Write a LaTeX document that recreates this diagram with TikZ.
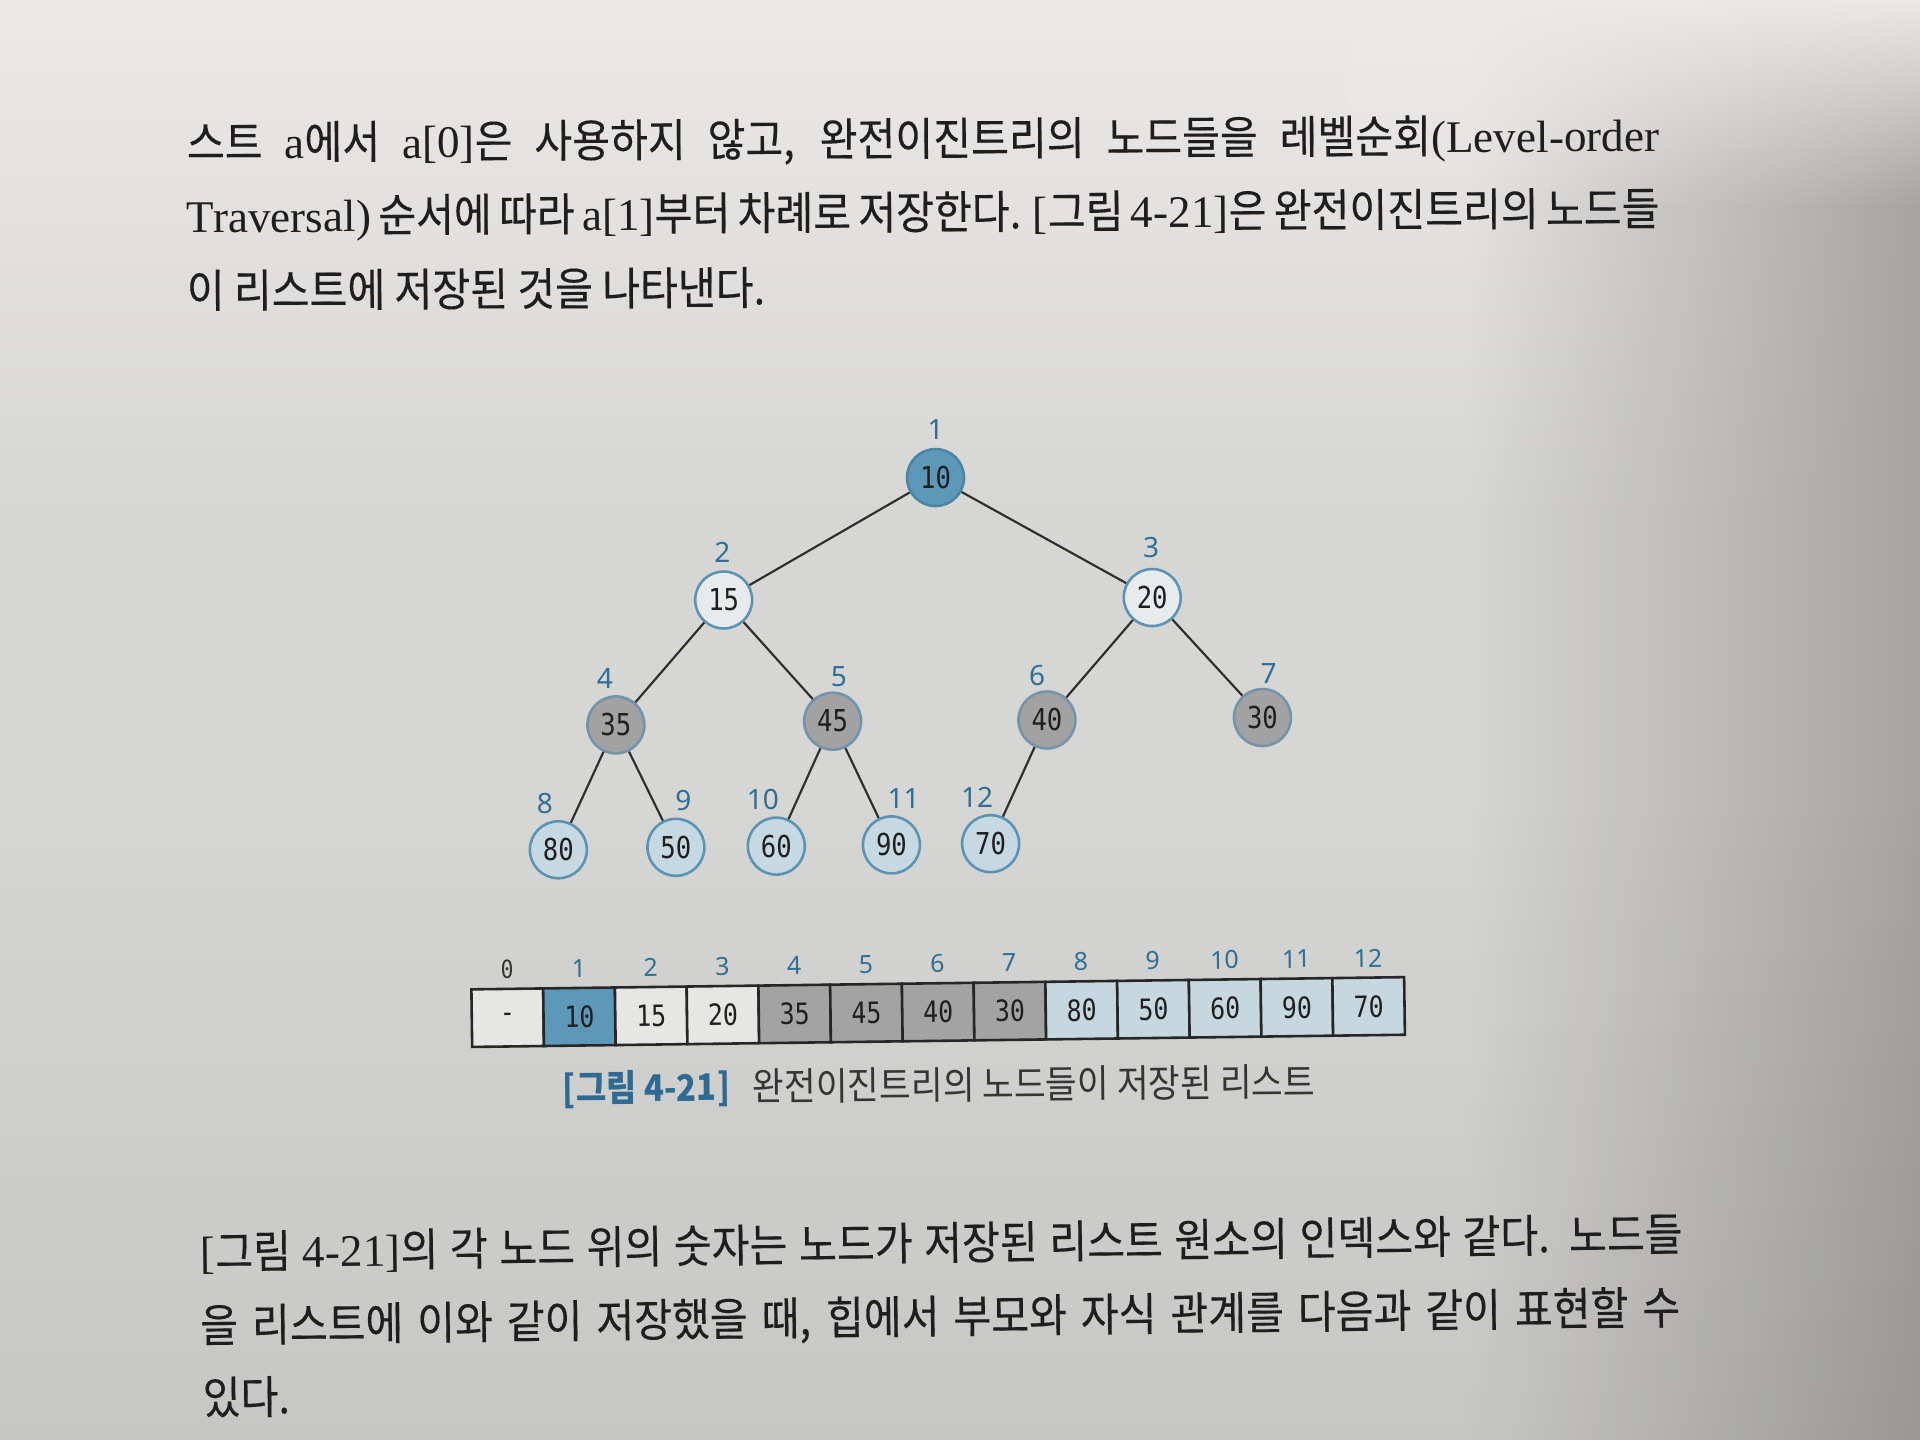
\documentclass[tikz,border=0pt]{standalone}
\usepackage{fontspec}
\usetikzlibrary{fadings}
\setmainfont{Noto Sans CJK KR}[FakeStretch=0.91, FakeBold=0.25]
\newfontfamily\lat{Liberation Serif}
\newfontfamily\monof[FakeStretch=0.85]{DejaVu Sans Mono}
\newfontfamily\idxf{Noto Sans}
\newfontfamily\capf[FakeStretch=0.9]{Noto Sans CJK KR}
\definecolor{bgmain}{HTML}{D6D6D4}
\definecolor{bgtop}{HTML}{EBE9E8}
\definecolor{bgright}{HTML}{A6A4A2}
\definecolor{textcol}{HTML}{1E1E1E}
\definecolor{rootblue}{HTML}{5D98B8}
\definecolor{rootedge}{HTML}{4A85A5}
\definecolor{whitefill}{HTML}{E8EBEC}
\definecolor{ltedge}{HTML}{5C93B3}
\definecolor{grayfill}{HTML}{A2A2A2}
\definecolor{grayedge}{HTML}{7393AA}
\definecolor{lbfill}{HTML}{C6D9E2}
\definecolor{idxblue}{HTML}{2F6F96}
\definecolor{edgecol}{HTML}{2E2E2E}
\definecolor{cellw}{HTML}{E6E6E5}
\definecolor{cellgray}{HTML}{A3A3A3}
\definecolor{celllb}{HTML}{C6D7DF}
\definecolor{capblue}{HTML}{2F6A92}
\tikzfading[name=fadeE, left color=transparent!100, right color=transparent!0]
\tikzfading[name=fadeS, top color=transparent!100, bottom color=transparent!0]
\tikzfading[name=fadeN, top color=transparent!0, bottom color=transparent!100]
\begin{document}
\begin{tikzpicture}[x=0.01cm,y=-0.01cm,
  tnode/.style={circle, minimum size=0.465cm, inner sep=0pt, line width=0.6pt,
    font=\monof\fontsize{7}{8}\selectfont, text=black!88},
  rootn/.style={tnode, fill=rootblue, draw=rootedge},
  whiten/.style={tnode, fill=whitefill, draw=ltedge},
  grayn/.style={tnode, fill=grayfill, draw=grayedge},
  lbn/.style={tnode, fill=lbfill, draw=ltedge},
  idx/.style={text=idxblue, font=\idxf\fontsize{6.5}{7}\selectfont, inner sep=0pt},
  tedge/.style={draw=edgecol, line width=0.5pt},
  txt/.style={anchor=base west, inner sep=0pt, font=\fontsize{10.5}{12}\selectfont, text=textcol},
  cell/.style={draw=black!85, line width=0.6pt, minimum width=0.586cm, minimum height=0.47cm,
    inner sep=0pt, transform shape, font=\monof\fontsize{6.8}{7}\selectfont, text=black!88},
  aidx/.style={text=idxblue, inner sep=0pt, transform shape, font=\idxf\fontsize{5.8}{6}\selectfont},
]
\useasboundingbox (0,0) rectangle (1568,1176);
% page background
\fill[bgmain] (0,0) rectangle (1568,1176);
\shade[top color=bgtop, bottom color=bgmain] (0,0) rectangle (1568,420);
\fill[bgright, path fading=fadeE] (1200,0) rectangle (1568,1176);
\fill[black, opacity=0.07, path fading=fadeS] (0,650) rectangle (1568,1176);
\fill[bgtop, path fading=fadeN] (1100,0) rectangle (1568,170);

% top paragraph
\node[txt, rotate=0.3] (p1) at (152,130) {\makebox[12.02cm][s]{스트 {\lat a}에서 {\lat a[0]}은 사용하지 않고, 완전이진트리의 노드들을 레벨순회{\lat (Level-order}}};
\node[txt, rotate=0.3] (p2) at (152,190) {\makebox[12.02cm][s]{{\lat Traversal)} 순서에 따라 {\lat a[1]}부터 차례로 저장한다. {\lat [}그림 {\lat 4-21]}은 완전이진트리의 노드들}};
\node[txt, rotate=0.3] (p3) at (152,251) {이 리스트에 저장된 것을 나타낸다.};

% tree
\node[rootn]  (n1)  at (764,390) {10};
\node[whiten] (n2)  at (591,490) {15};
\node[whiten] (n3)  at (941,488) {20};
\node[grayn]  (n4)  at (503,592) {35};
\node[grayn]  (n5)  at (680,589) {45};
\node[grayn]  (n6)  at (855,588) {40};
\node[grayn]  (n7)  at (1031,586) {30};
\node[lbn]    (n8)  at (456,694) {80};
\node[lbn]    (n9)  at (552,692) {50};
\node[lbn]    (n10) at (634,691) {60};
\node[lbn]    (n11) at (728,690) {90};
\node[lbn]    (n12) at (809,689) {70};
\draw[tedge] (n1) -- (n2);
\draw[tedge] (n1) -- (n3);
\draw[tedge] (n2) -- (n4);
\draw[tedge] (n2) -- (n5);
\draw[tedge] (n3) -- (n6);
\draw[tedge] (n3) -- (n7);
\draw[tedge] (n4) -- (n8);
\draw[tedge] (n4) -- (n9);
\draw[tedge] (n5) -- (n10);
\draw[tedge] (n5) -- (n11);
\draw[tedge] (n6) -- (n12);
\node[idx] (l1)  at (764,351) {1};
\node[idx] (l2)  at (590,451) {2};
\node[idx] (l3)  at (940,447) {3};
\node[idx] (l4)  at (494,554) {4};
\node[idx] (l5)  at (685,553) {5};
\node[idx] (l6)  at (847,552) {6};
\node[idx] (l7)  at (1036,550) {7};
\node[idx] (l8)  at (445,656) {8};
\node[idx] (l9)  at (558,654) {9};
\node[idx] (l10) at (623,653) {10};
\node[idx] (l11) at (738,652) {11};
\node[idx] (l12) at (798,651) {12};

% array
\begin{scope}[shift={(385,808)}, rotate=0.75]
\node[cell, fill=cellw]    (c0)  at (29.3,23.5) {-};
\node[cell, fill=rootblue] (c1)  at (87.9,23.5) {10};
\node[cell, fill=cellw]    (c2)  at (146.5,23.5) {15};
\node[cell, fill=cellw]    (c3)  at (205.1,23.5) {20};
\node[cell, fill=cellgray] (c4)  at (263.7,23.5) {35};
\node[cell, fill=cellgray] (c5)  at (322.3,23.5) {45};
\node[cell, fill=cellgray] (c6)  at (380.9,23.5) {40};
\node[cell, fill=cellgray] (c7)  at (439.5,23.5) {30};
\node[cell, fill=celllb]   (c8)  at (498.1,23.5) {80};
\node[cell, fill=celllb]   (c9)  at (556.7,23.5) {50};
\node[cell, fill=celllb]   (c10) at (615.3,23.5) {60};
\node[cell, fill=celllb]   (c11) at (673.9,23.5) {90};
\node[cell, fill=celllb]   (c12) at (732.5,23.5) {70};
\node[aidx, text=black!80, font=\monof\fontsize{5.8}{6}\selectfont] (a0) at (29.3,-16) {0};
\node[aidx] (a1)  at (87.9,-16) {1};
\node[aidx] (a2)  at (146.5,-16) {2};
\node[aidx] (a3)  at (205.1,-16) {3};
\node[aidx] (a4)  at (263.7,-16) {4};
\node[aidx] (a5)  at (322.3,-16) {5};
\node[aidx] (a6)  at (380.9,-16) {6};
\node[aidx] (a7)  at (439.5,-16) {7};
\node[aidx] (a8)  at (498.1,-16) {8};
\node[aidx] (a9)  at (556.7,-16) {9};
\node[aidx] (a10) at (615.3,-16) {10};
\node[aidx] (a11) at (673.9,-16) {11};
\node[aidx] (a12) at (732.5,-16) {12};
\end{scope}

% caption
\node[anchor=base west, inner sep=0pt, rotate=0.5, text=capblue, font=\capf\bfseries\fontsize{8.5}{10}\selectfont] (cap1) at (459,900) {[그림 4-21]};
\node[anchor=base west, inner sep=0pt, rotate=0.5, text=textcol!90, font=\capf\fontsize{8.9}{10}\selectfont] (cap2) at (614,899) {완전이진트리의 노드들이 저장된 리스트};

% bottom paragraph
\node[txt, rotate=0.7] (q1) at (163,1036) {\makebox[12.1cm][s]{{\lat [}그림 {\lat 4-21]}의 각 노드 위의 숫자는 노드가 저장된 리스트 원소의 인덱스와 같다. 노드들}};
\node[txt, rotate=0.7] (q2) at (163,1096) {\makebox[12.08cm][s]{을 리스트에 이와 같이 저장했을 때, 힙에서 부모와 자식 관계를 다음과 같이 표현할 수}};
\node[txt, rotate=0.7] (q3) at (165,1155) {있다.};
\end{tikzpicture}
\end{document}
